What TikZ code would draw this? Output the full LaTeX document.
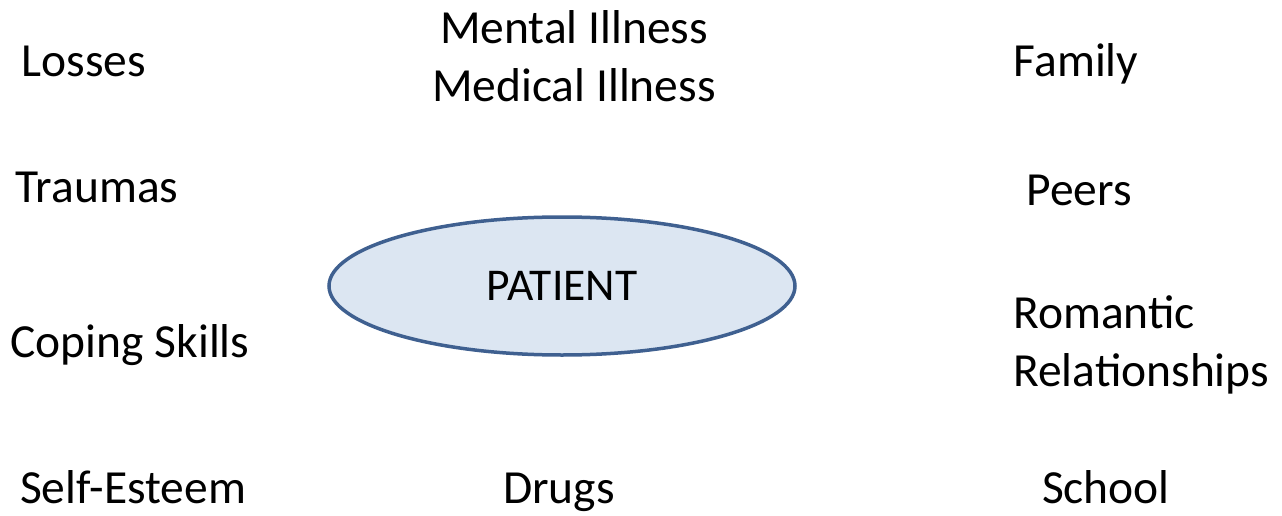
\documentclass[tikz,border=0pt]{standalone}
\usepackage{fontspec}
\setmainfont{Carlito}
\usetikzlibrary{shapes.geometric}
\definecolor{ovalfill}{HTML}{DCE6F2}
\definecolor{ovalline}{HTML}{3F6090}
\tikzset{
	factor/.style={inner sep=0pt, anchor=base, font=\fontsize{47.5}{58}\selectfont},
	patient/.style={draw=ovalline, line width=3.5pt, fill=ovalfill, ellipse, minimum width=466pt, minimum height=138pt, inner sep=0pt, font=\fontsize{45.5}{54}\selectfont},
}
\begin{document}
\begin{tikzpicture}[x=1pt, y=-1pt]
	\useasboundingbox (0,0) rectangle (1282,516);
	
	\node (pt) [patient] at (562,286) {PATIENT};
	
	% left column
	\node (loss) [factor] at (84,77) {Losses};
	\node (trau) [factor] at (97,202) {Traumas};
	\node (cope) [factor] at (130,357) {Coping Skills};
	\node (self) [factor] at (133,503) {Self-Esteem};
	
	% middle column
	\node (ill) [factor, anchor=center, align=center] at (574,56) {Mental Illness\\Medical Illness};
	\node (drug) [factor] at (559,503) {Drugs};
	
	% right column
	\node (fam) [factor] at (1076,77) {Family};
	\node (peer) [factor] at (1079,205) {Peers};
	\node (rom) [factor, anchor=west, align=left] at (1013,345) {Romantic\\Relationships};
	\node (sch) [factor] at (1106,503) {School};
\end{tikzpicture}
\end{document}
